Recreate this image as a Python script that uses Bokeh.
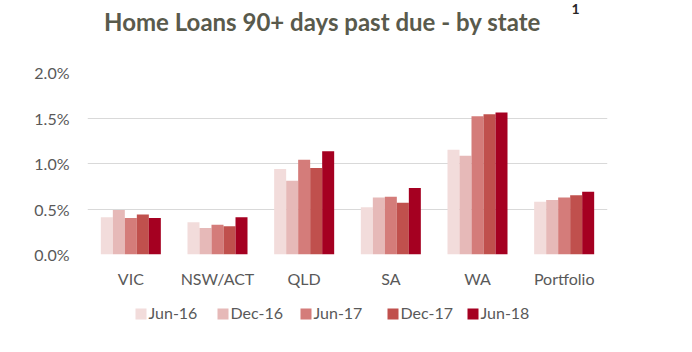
from bokeh.plotting import figure
from bokeh.layouts import column
from bokeh.models import (FactorRange, Range1d, Label, PrintfTickFormatter,
                          ColumnDataSource, FixedTicker)
from bokeh.transform import dodge
from bokeh.embed import file_html
from bokeh.resources import INLINE

states = ["VIC", "NSW/ACT", "QLD", "SA", "WA", "Portfolio"]
periods = ["Jun-16", "Dec-16", "Jun-17", "Dec-17", "Jun-18"]
jun16 = [0.41, 0.355, 0.94, 0.52, 1.15, 0.58]
dec16 = [0.49, 0.29, 0.81, 0.626, 1.085, 0.60]
jun17 = [0.40, 0.326, 1.04, 0.634, 1.52, 0.626]
dec17 = [0.44, 0.31, 0.95, 0.57, 1.54, 0.65]
jun18 = [0.40, 0.41, 1.135, 0.73, 1.56, 0.69]
y_ticks = [0.0, 0.5, 1.0, 1.5, 2.0]
colors = ["#F2DCDB", "#E6B9B8", "#D47C7A", "#C0504D", "#A50021"]

series = [jun16, dec16, jun17, dec17, jun18]
source = ColumnDataSource(dict(state=states, **{p: s for p, s in zip(periods, series)}))

W = 692
TITLE_H, MAIN_H, LEG_H = 50, 250, 52
FL, FR = 87, 85  # frame left / right borders, shared by all strips


def strip(h, top):
    # a strip whose data coordinates equal canvas pixels (y grows downward)
    f = figure(width=W, height=h, x_range=Range1d(FL, W - FR), y_range=Range1d(top + h, top),
               x_axis_type=None, y_axis_type=None, output_backend="svg", toolbar_location=None,
               min_border_left=FL, min_border_right=FR, min_border_top=0, min_border_bottom=0)
    f.outline_line_color = None
    f.xgrid.visible = False
    f.ygrid.visible = False
    return f


# ---- title strip ----
pt = strip(TITLE_H, 0)
pt.add_layout(Label(x=322, y=21, text="Home Loans 90+ days past due - by state",
                    text_font="Lato", text_font_style="bold", text_font_size="24px", text_color="#595A4C",
                    text_align="center", text_baseline="alphabetic"))
pt.add_layout(Label(x=575, y=8, text="1",
                    text_font="Lato", text_font_style="bold", text_font_size="14px", text_color="#262626",
                    text_align="center", text_baseline="alphabetic"))

# ---- main chart ----
p = figure(width=W, height=MAIN_H, x_range=FactorRange(*states), y_range=Range1d(0, 2.0),
           output_backend="svg", toolbar_location=None,
           min_border_left=FL, min_border_right=FR, min_border_top=72 - TITLE_H,
           min_border_bottom=TITLE_H + MAIN_H - 254)
p.outline_line_color = None

bw = 0.1385
offsets = [-2 * bw, -bw, 0, bw, 2 * bw]
for per, col, off in zip(periods, colors, offsets):
    p.vbar(x=dodge("state", off, range=p.x_range), top=per, width=bw, source=source,
           fill_color=col, line_color=None)

p.xgrid.grid_line_color = None
p.ygrid.grid_line_color = "#D9D9D9"
p.ygrid.grid_line_width = 1
p.yaxis.ticker = FixedTicker(ticks=y_ticks)
p.yaxis.formatter = PrintfTickFormatter(format="%.1f%%")
for ax in (p.xaxis, p.yaxis):
    ax.axis_line_color = None
    ax.major_tick_line_color = None
    ax.minor_tick_line_color = None
    ax.major_label_text_font = "Lato"
    ax.major_label_text_font_size = "16px"
    ax.major_label_text_color = "#595959"
p.yaxis.major_label_standoff = 12
p.xaxis.major_label_standoff = 8

# ---- legend strip ----
pl = strip(LEG_H, TITLE_H + MAIN_H)
swatch_x = [135, 217, 300, 387, 467]  # canvas x of each legend swatch
leg = ColumnDataSource(dict(x=[sx + 5.5 for sx in swatch_x], y=[313.5] * len(periods), color=colors))
pl.rect(x="x", y="y", width=11, height=11, fill_color="color", line_color=None, source=leg)
for per, sx in zip(periods, swatch_x):
    pl.add_layout(Label(x=sx + 13, y=311.5, text=per,
                        text_font="Lato", text_font_size="16px", text_color="#595959",
                        text_align="left", text_baseline="alphabetic"))

layout = column(pt, p, pl, spacing=0)
open("out.html", "w").write(file_html(layout, INLINE))
